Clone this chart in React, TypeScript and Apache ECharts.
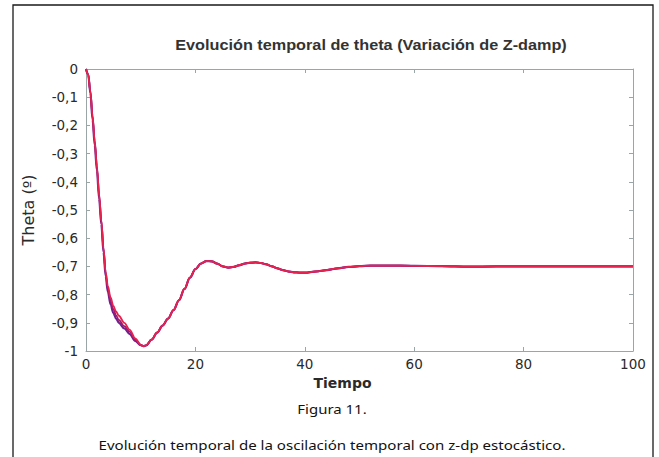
import React, { useEffect, useRef } from "react";
import * as echarts from "echarts";

const titleText = "Evolución temporal de theta (Variación de Z-damp)";
const xName = "Tiempo";
const yName = "Theta (º)";
const figureLabel = "Figura 11.";
const captionText = "Evolución temporal de la oscilación temporal con z-dp estocástico.";

const timeMain = [0, 0.4, 0.8, 1.2, 1.6, 2.0, 2.4, 2.8, 3.2, 3.6, 4.0, 4.5, 5.0, 5.5, 6.0, 7.0, 8.0, 9.0, 10.0, 10.5, 11.0, 12.0, 13.0, 14.0, 15.0, 16.0, 17.0, 18.0, 19.0, 20.0, 21.0, 22.0, 23.0, 24.0, 25.0, 26.0, 27.0, 28.0, 29.0, 30.0, 31.0, 32.0, 33.0, 34.0, 35.0, 36.0, 37.0, 38.0, 39.0, 40.0, 42.0, 44.0, 46.0, 48.0, 50.0, 52.0, 55.0, 60.0, 65.0, 70.0, 75.0, 80.0, 90.0, 100.0];
const thetaRed = [0, -0.02, -0.08, -0.17, -0.26, -0.35, -0.45, -0.54, -0.64, -0.72, -0.77, -0.81, -0.84, -0.86, -0.875, -0.9, -0.925, -0.955, -0.978, -0.983, -0.98, -0.96, -0.935, -0.91, -0.885, -0.855, -0.82, -0.78, -0.74, -0.71, -0.69, -0.681, -0.682, -0.69, -0.7, -0.704, -0.702, -0.696, -0.69, -0.687, -0.686, -0.688, -0.693, -0.7, -0.707, -0.713, -0.718, -0.721, -0.722, -0.722, -0.718, -0.713, -0.707, -0.702, -0.699, -0.697, -0.697, -0.698, -0.699, -0.701, -0.7, -0.7, -0.7, -0.7];
const thetaPurple = [0, -0.02, -0.085, -0.18, -0.27, -0.36, -0.46, -0.55, -0.65, -0.735, -0.79, -0.835, -0.865, -0.885, -0.9, -0.92, -0.94, -0.964, -0.979, -0.983, -0.98, -0.96, -0.935, -0.91, -0.885, -0.855, -0.82, -0.78, -0.74, -0.71, -0.69, -0.681, -0.682, -0.69, -0.7, -0.704, -0.702, -0.696, -0.69, -0.687, -0.686, -0.688, -0.693, -0.7, -0.707, -0.713, -0.718, -0.721, -0.722, -0.722, -0.718, -0.713, -0.707, -0.702, -0.699, -0.697, -0.697, -0.698, -0.699, -0.701, -0.7, -0.7, -0.7, -0.7];
const thetaViolet = [0, -0.018, -0.078, -0.165, -0.255, -0.345, -0.445, -0.535, -0.635, -0.725, -0.78, -0.822, -0.852, -0.874, -0.89, -0.912, -0.932, -0.96, -0.978, -0.983, -0.98, -0.96, -0.935, -0.91, -0.885, -0.855, -0.82, -0.78, -0.74, -0.71, -0.69, -0.681, -0.682, -0.69, -0.7, -0.704, -0.702, -0.696, -0.69, -0.687, -0.686, -0.688, -0.693, -0.7, -0.707, -0.713, -0.718, -0.721, -0.722, -0.722, -0.718, -0.713, -0.707, -0.702, -0.699, -0.697, -0.697, -0.698, -0.699, -0.701, -0.7, -0.7, -0.7, -0.7];

const axisColor = "#9aa6a6";
const labelColor = "#2a2a2a";
const wide = "'DejaVu Sans', sans-serif";

function pairs(xs: number[], ys: number[]) {
  return xs.map((x, i) => [x, ys[i]]);
}

export default function App() {
  const ref = useRef<HTMLDivElement>(null);
  useEffect(() => {
    if (!ref.current) return;
    const chart = echarts.init(ref.current, undefined, { renderer: "svg" });
    const fmtY = (v: number) => {
      const r = Math.round(v * 10) / 10;
      if (r === 0) return "0";
      if (r === -1) return "-1";
      return r.toFixed(1).replace(".", ",");
    };
    const lineSeries = (name: string, data: number[], color: string, width: number, z: number) => ({
      name,
      type: "line",
      data: pairs(timeMain, data),
      showSymbol: false,
      smooth: 0.35,
      smoothMonotone: "x",
      lineStyle: { color, width },
      z,
      xAxisIndex: 0,
      yAxisIndex: 0,
    });
    const tick = { show: true, inside: true, length: 4, lineStyle: { color: axisColor } };
    chart.setOption({
      animation: false,
      backgroundColor: "#ffffff",
      grid: { left: 86, top: 69, right: 26, bottom: 106, containLabel: false },
      xAxis: [
        {
          type: "value",
          min: 0,
          max: 100,
          interval: 20,
          name: xName,
          nameLocation: "middle",
          nameGap: 24,
          nameTextStyle: { fontFamily: wide, fontWeight: "bold", fontSize: 14, color: labelColor, padding: [0, 34, 0, 0] },
          axisLine: { show: true, onZero: false, lineStyle: { color: axisColor, width: 1 } },
          axisTick: tick,
          axisLabel: { fontFamily: wide, fontSize: 13.5, color: labelColor, margin: 6 },
          splitLine: { show: false },
        },
        {
          type: "value",
          position: "top",
          min: 0,
          max: 100,
          interval: 20,
          axisLine: { show: true, onZero: false, lineStyle: { color: axisColor, width: 1 } },
          axisTick: tick,
          axisLabel: { show: false },
          splitLine: { show: false },
        },
      ],
      yAxis: [
        {
          type: "value",
          min: -1,
          max: 0,
          interval: 0.1,
          name: yName,
          nameLocation: "middle",
          nameGap: 50,
          nameTextStyle: { fontFamily: wide, fontSize: 16, color: labelColor },
          axisLine: { show: true, onZero: false, lineStyle: { color: axisColor, width: 1 } },
          axisTick: tick,
          axisLabel: { fontFamily: wide, fontSize: 13.5, color: labelColor, margin: 8, formatter: fmtY },
          splitLine: { show: false },
        },
        {
          type: "value",
          position: "right",
          min: -1,
          max: 0,
          interval: 0.1,
          axisLine: { show: true, onZero: false, lineStyle: { color: axisColor, width: 1 } },
          axisTick: tick,
          axisLabel: { show: false },
          splitLine: { show: false },
        },
      ],
      series: [
        lineSeries("s3", thetaPurple, "#6e2290", 2.2, 2),
        lineSeries("s2", thetaViolet, "#a01a6a", 1.8, 3),
        lineSeries("s1", thetaRed, "#e8224e", 1.8, 4),
      ],
      graphic: [
        {
          type: "polyline",
          shape: { points: [[13, 460], [13, 5], [653, 5], [653, 460]] },
          style: { stroke: "#1a1a1a", lineWidth: 1.3, fill: "none" },
          silent: true,
        },
        {
          type: "text",
          x: 371,
          y: 45,
          scaleX: 1.16,
          style: {
            text: titleText,
            font: "bold 14px 'Liberation Sans', Arial, sans-serif",
            fill: "#333",
            textAlign: "center",
            textVerticalAlign: "middle",
          },
        },
        {
          type: "text",
          x: 332,
          y: 409,
          scaleX: 1.15,
          style: {
            text: figureLabel,
            font: "13px 'Noto Sans'",
            fill: "#111",
            textAlign: "center",
            textVerticalAlign: "middle",
          },
        },
        {
          type: "text",
          x: 332,
          y: 445,
          scaleX: 1.16,
          style: {
            text: captionText,
            font: "13px 'Noto Sans'",
            fill: "#111",
            textAlign: "center",
            textVerticalAlign: "middle",
          },
        },
      ],
    });
    return () => chart.dispose();
  }, []);
  return (
    <div
      ref={ref}
      style={{ position: "fixed", left: 0, top: 0, width: 659, height: 457, background: "#fff" }}
    />
  );
}
